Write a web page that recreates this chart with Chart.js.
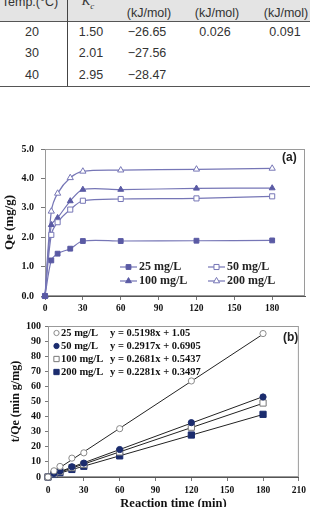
<!DOCTYPE html>
<html>
<head>
<meta charset="utf-8">
<script src="https://cdn.jsdelivr.net/npm/chart.js@4/dist/chart.umd.min.js"></script>
<style>
html, body { margin: 0; padding: 0; background: #fff; width: 310px; height: 507px; overflow: hidden; position: relative; }
.t { position: absolute; font: 12.5px "Liberation Sans", Arial, sans-serif; color: #333; transform: translate(-50%, -50%); white-space: nowrap; }
.kc { font-family: "Liberation Serif", serif; font-size: 13px; }
#hdr { position: absolute; left: 0; top: 0; width: 310px; height: 21px; background: #e4e4e4; border-bottom: 1px solid #555; }
#vline { position: absolute; left: 67px; top: 0; width: 1px; height: 86px; background: #444; }
#bline { position: absolute; left: 0; top: 86px; width: 310px; height: 1px; background: #555; }
#ca { position: absolute; left: 0; top: 136px; }
#cb { position: absolute; left: 0; top: 316px; }
</style>
</head>
<body>
<div id="hdr"></div>
<div id="vline"></div>
<div id="bline"></div>
<div class="t" style="left:30px;top:2px">Temp.(°C)</div>
<div class="t kc" style="left:88px;top:2px"><i>K</i><sub style="font-size:9px"><i>c</i></sub></div>
<div class="t" style="left:149px;top:13px">(kJ/mol)</div>
<div class="t" style="left:217px;top:13px">(kJ/mol)</div>
<div class="t" style="left:286px;top:13px">(kJ/mol)</div>
<div id="rows"></div>

<canvas id="ca" width="310" height="180"></canvas>
<canvas id="cb" width="310" height="200"></canvas>

<script>
// table rows
const tableRows = [
    ['20', '1.50', '−26.65', '0.026', '0.091'],
    ['30', '2.01', '−27.56', '', ''],
    ['40', '2.95', '−28.47', '', '']
];
const colX = [32, 91, 147, 215, 285];
const rowY = [31.5, 53, 74.5];

// chart (a): Qe vs time
const timeA = [0, 5, 10, 20, 30, 60, 120, 180];
const qe25 = [0, 1.21, 1.44, 1.61, 1.87, 1.87, 1.88, 1.89];
const qe50 = [0, 2.08, 2.51, 2.94, 3.24, 3.30, 3.32, 3.39];
const qe100 = [0, 2.42, 2.66, 3.23, 3.62, 3.62, 3.66, 3.67];
const qe200 = [0, 2.88, 3.49, 4.02, 4.24, 4.28, 4.31, 4.34];
const xTicksA = [0, 30, 60, 90, 120, 150, 180];
const seriesNames = ['25 mg/L', '50 mg/L', '100 mg/L', '200 mg/L'];

// chart (b): t/Qe vs time
const timeB = [0, 5, 10, 20, 30, 60, 120, 180];
const tq25 = [0, 4.1, 7.0, 12.5, 16.0, 32.0, 63.6, 95.0];
const tq50 = [0, 2.4, 4.0, 6.8, 9.2, 18.2, 36.0, 53.0];
const tq100 = [0, 2.1, 3.8, 6.2, 8.3, 16.6, 33.0, 49.0];
const tq200 = [0, 1.7, 2.9, 5.0, 7.1, 14.0, 27.8, 41.5];
const fitX = [0, 180];
const fit25 = [1.05, 94.61];
const fit50 = [0.69, 53.20];
const fit100 = [0.54, 48.80];
const fit200 = [0.35, 41.41];
const equations = ['y = 0.5198x + 1.05', 'y = 0.2917x + 0.6905', 'y = 0.2681x + 0.5437', 'y = 0.2281x + 0.3497'];

const serif = '"Liberation Serif", "Times New Roman", serif';
const sans = '"Liberation Sans", Arial, sans-serif';

const rowsDiv = document.getElementById('rows');
tableRows.forEach((r, i) => {
    r.forEach((txt, j) => {
        if (!txt) return;
        const d = document.createElement('div');
        d.className = 't';
        d.style.left = colX[j] + 'px';
        d.style.top = rowY[i] + 'px';
        d.textContent = txt;
        rowsDiv.appendChild(d);
    });
});

function pts(xs, ys) {
    return xs.map((x, i) => ({ x: x, y: ys[i] }));
}

function drawMarker(ctx, style, x, y, r, fill, stroke) {
    ctx.beginPath();
    if (style === 'circle') {
        ctx.arc(x, y, r, 0, Math.PI * 2);
    } else if (style === 'rect') {
        const s = r * Math.SQRT1_2;
        ctx.rect(x - s, y - s, 2 * s, 2 * s);
    } else {
        ctx.moveTo(x, y - r);
        ctx.lineTo(x + r * 0.866, y + r * 0.5);
        ctx.lineTo(x - r * 0.866, y + r * 0.5);
        ctx.closePath();
    }
    ctx.fillStyle = fill;
    ctx.fill();
    ctx.strokeStyle = stroke;
    ctx.lineWidth = 1;
    ctx.stroke();
}

// gray frame round the plot area
const frame = {
    id: 'frame',
    beforeDatasetsDraw(chart) {
        const { ctx, chartArea: a } = chart;
        ctx.save();
        ctx.strokeStyle = '#9a9a9a';
        ctx.lineWidth = 1;
        ctx.strokeRect(a.left + 0.5, a.top + 0.5, a.right - a.left - 1, a.bottom - a.top - 1);
        ctx.restore();
    }
};

// panel letter
function panelLabel(text, x, y) {
    return {
        id: 'panel' + text,
        afterDraw(chart) {
            const ctx = chart.ctx;
            ctx.save();
            ctx.font = 'bold 12px ' + sans;
            ctx.fillStyle = '#222';
            ctx.textAlign = 'left';
            ctx.textBaseline = 'middle';
            ctx.fillText(text, x, y);
            ctx.restore();
        }
    };
}

// legend of (a): 2 columns, line + marker
const legendA = {
    id: 'legendA',
    afterDraw(chart) {
        const ctx = chart.ctx;
        const cols = [120, 208];
        const rows = [131, 145];
        ctx.save();
        chart.data.datasets.forEach((ds, i) => {
            const x = cols[i % 2], y = rows[Math.floor(i / 2)];
            ctx.strokeStyle = ds.borderColor;
            ctx.lineWidth = 1.2;
            ctx.beginPath();
            ctx.moveTo(x, y);
            ctx.lineTo(x + 17, y);
            ctx.stroke();
            drawMarker(ctx, ds.pointStyle, x + 8.5, y, ds.pointRadius, ds.pointBackgroundColor, ds.pointBorderColor);
            ctx.font = 'bold 12px ' + serif;
            ctx.fillStyle = '#222';
            ctx.textAlign = 'left';
            ctx.textBaseline = 'middle';
            ctx.fillText(ds.label, x + 19, y);
        });
        ctx.restore();
    }
};

// legend of (b): marker, name, equation
const legendB = {
    id: 'legendB',
    afterDraw(chart) {
        const ctx = chart.ctx;
        const rows = [17, 30, 43, 56];
        ctx.save();
        chart.data.datasets.slice(0, 4).forEach((ds, i) => {
            const y = rows[i];
            drawMarker(ctx, ds.pointStyle, 56.5, y, ds.pointRadius * 0.85, ds.pointBackgroundColor, ds.pointBorderColor);
            ctx.font = 'bold 10.5px ' + serif;
            ctx.fillStyle = '#111';
            ctx.textAlign = 'left';
            ctx.textBaseline = 'middle';
            ctx.fillText(ds.label, 61, y);
            ctx.fillText(equations[i], 110, y);
        });
        ctx.restore();
    }
};

const lineA = '#7676b6';
const fillA = '#5a5aa4';

new Chart(document.getElementById('ca'), {
    type: 'scatter',
    data: {
        datasets: [
            { label: seriesNames[0], data: pts(timeA, qe25), pointStyle: 'rect', pointRadius: 3.4, pointBackgroundColor: fillA, pointBorderColor: fillA },
            { label: seriesNames[1], data: pts(timeA, qe50), pointStyle: 'rect', pointRadius: 3.6, pointBackgroundColor: '#fff', pointBorderColor: lineA },
            { label: seriesNames[2], data: pts(timeA, qe100), pointStyle: 'triangle', pointRadius: 3.4, pointBackgroundColor: fillA, pointBorderColor: fillA },
            { label: seriesNames[3], data: pts(timeA, qe200), pointStyle: 'triangle', pointRadius: 3.6, pointBackgroundColor: '#fff', pointBorderColor: lineA }
        ].map(d => Object.assign(d, { showLine: true, borderColor: lineA, borderWidth: 1.2, tension: 0.3, clip: false, pointBorderWidth: 1 }))
    },
    options: {
        responsive: false,
        animation: false,
        layout: { padding: { top: 10, right: 5, left: 0, bottom: 0 } },
        plugins: { legend: { display: false }, tooltip: { enabled: false } },
        scales: {
            x: {
                type: 'linear', min: 0, max: 206,
                afterBuildTicks: s => { s.ticks = xTicksA.map(v => ({ value: v })); },
                afterFit: s => { s.height = 20; },
                grid: { drawOnChartArea: false, tickLength: 4, color: '#777' },
                border: { color: '#555' },
                ticks: { font: { family: serif, weight: 'bold', size: 9.5 }, color: '#111', padding: 3, maxRotation: 0, autoSkip: false }
            },
            y: {
                min: 0, max: 5,
                afterFit: s => { s.width = 45; },
                grid: { drawOnChartArea: false, tickLength: 4, color: '#777' },
                border: { color: '#555' },
                ticks: { stepSize: 1, callback: v => v.toFixed(1), font: { family: serif, weight: 'bold', size: 10 }, color: '#111', padding: 7 },
                title: { display: true, text: 'Qe (mg/g)', font: { family: serif, weight: 'bold', size: 13 }, color: '#111', padding: { top: 2, bottom: 0 } }
            }
        }
    },
    plugins: [frame, legendA, panelLabel('(a)', 282, 22)]
});

const navy = '#1b2c6e';

new Chart(document.getElementById('cb'), {
    type: 'scatter',
    data: {
        datasets: [
            { label: seriesNames[0], data: pts(timeB, tq25), pointStyle: 'circle', pointRadius: 3.1, pointBackgroundColor: '#fff', pointBorderColor: '#8a8a8a' },
            { label: seriesNames[1], data: pts(timeB, tq50), pointStyle: 'circle', pointRadius: 3.1, pointBackgroundColor: navy, pointBorderColor: navy },
            { label: seriesNames[2], data: pts(timeB, tq100), pointStyle: 'rect', pointRadius: 4.4, pointBackgroundColor: '#fff', pointBorderColor: '#777' },
            { label: seriesNames[3], data: pts(timeB, tq200), pointStyle: 'rect', pointRadius: 4.4, pointBackgroundColor: navy, pointBorderColor: navy },
            { label: 'fit25', data: pts(fitX, fit25) },
            { label: 'fit50', data: pts(fitX, fit50) },
            { label: 'fit100', data: pts(fitX, fit100) },
            { label: 'fit200', data: pts(fitX, fit200) }
        ].map((d, i) => i < 4
            ? Object.assign(d, { showLine: false, clip: false, pointBorderWidth: 1, order: 0 })
            : Object.assign(d, { showLine: true, pointRadius: 0, borderColor: '#222', borderWidth: 1, clip: false, order: 1 }))
    },
    options: {
        responsive: false,
        animation: false,
        layout: { padding: { top: 10, right: 8, left: 0, bottom: 0 } },
        plugins: { legend: { display: false }, tooltip: { enabled: false } },
        scales: {
            x: {
                type: 'linear', min: 0, max: 210,
                afterFit: s => { s.height = 39; },
                grid: { drawOnChartArea: false, tickLength: 4, color: '#777' },
                border: { color: '#555' },
                ticks: { stepSize: 30, font: { family: serif, weight: 'bold', size: 9.5 }, color: '#111', padding: 4, maxRotation: 0, autoSkip: false },
                title: { display: true, text: 'Reaction time (min)', font: { family: serif, weight: 'bold', size: 12.5 }, color: '#111', padding: { top: 0, bottom: 5 } }
            },
            y: {
                min: 0, max: 100,
                afterFit: s => { s.width = 48; },
                grid: { drawOnChartArea: false, tickLength: 3, color: '#777' },
                border: { color: '#555' },
                ticks: { stepSize: 10, font: { family: serif, weight: 'bold', size: 10 }, color: '#111', padding: 4 },
                title: { display: true, text: 't/Qe (min g/mg)', font: { family: serif, weight: 'bold', size: 12 }, color: '#111', padding: { top: 9, bottom: 0 } }
            }
        }
    },
    plugins: [frame, legendB, panelLabel('(b)', 283, 22)]
});
</script>
</body>
</html>
